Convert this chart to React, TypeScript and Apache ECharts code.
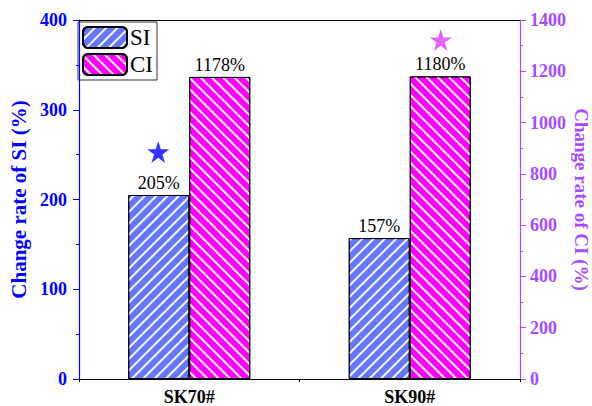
import React, { useEffect, useRef } from "react";
import * as echarts from "echarts";

const categories = ["SK70#", "SK90#"];
const siValues = [205, 157];
const ciValues = [1178, 1180];
const siLabels = ["205%", "157%"];
const ciLabels = ["1178%", "1180%"];
const starSI = [253, null];
const starCI = [null, 1322];

const FONT = "'Times New Roman', 'Liberation Serif', serif";
const STAR = "path://M50,0 L61.2,34.5 L97.6,34.5 L68.2,55.9 L79.4,90.5 L50,69.1 L20.6,90.5 L31.8,55.9 L2.4,34.5 L38.8,34.5 Z";
const BLUE = "#0000FF";
const PURPLE = "#A64BFF";

export default function App() {
  const ref = useRef<HTMLDivElement>(null);
  useEffect(() => {
    const chart = echarts.init(ref.current!, null, { renderer: "svg" });
    const decalBase = {
      symbol: "rect",
      symbolSize: 1,
      dashArrayX: [1, 0],
      dashArrayY: [1.3, 5.2],
      color: "rgba(255,255,255,0.95)",
    };
    chart.setOption({
      animation: false,
      backgroundColor: "#fff",
      grid: {
        left: 79,
        right: 72,
        top: 20,
        bottom: 27,
        outerBoundsMode: "none",
        containLabel: false,
      },
      legend: {
        left: 78,
        top: 22,
        orient: "vertical",
        itemWidth: 44,
        itemHeight: 21,
        itemGap: 4,
        padding: [4, 4, 4, 4],
        borderColor: "#333",
        borderWidth: 1,
        data: ["SI", "CI"],
        textStyle: { fontFamily: FONT, fontSize: 23, color: "#000", padding: [0, 0, 0, -2] },
      },
      xAxis: [
        {
          type: "category",
          data: categories,
          axisLine: { lineStyle: { color: "#000", width: 1 } },
          axisTick: { alignWithLabel: true, length: 6, lineStyle: { color: "#000" } },
          axisLabel: {
            fontFamily: FONT,
            fontWeight: "bold",
            fontSize: 18,
            color: "#000",
            margin: 9,
            lineHeight: 18,
          },
        },
        {
          type: "category",
          data: categories,
          position: "bottom",
          axisLine: { show: false },
          axisTick: { show: true, length: 3, lineStyle: { color: "#000" } },
          axisLabel: { show: false },
        },
        {
          type: "category",
          data: categories,
          position: "top",
          axisLine: { show: true, lineStyle: { color: "#000", width: 1 } },
          axisTick: { show: false },
          axisLabel: { show: false },
        },
      ],
      yAxis: [
        {
          type: "value",
          min: 0,
          max: 400,
          interval: 100,
          name: "Change rate of SI (%)",
          nameLocation: "middle",
          nameGap: 46,
          nameTextStyle: { fontFamily: FONT, fontWeight: "bold", fontSize: 21, color: BLUE },
          axisLine: { show: true, lineStyle: { color: BLUE, width: 1.2 } },
          axisTick: { show: true, length: 6, lineStyle: { color: BLUE } },
          minorTick: { show: true, splitNumber: 2, length: 3, lineStyle: { color: BLUE } },
          splitLine: { show: false },
          axisLabel: {
            fontFamily: FONT,
            fontWeight: "bold",
            fontSize: 18,
            color: BLUE,
            margin: 12,
            formatter: (v: number) => String(v),
          },
        },
        {
          type: "value",
          min: 0,
          max: 1400,
          interval: 200,
          position: "right",
          name: "Change rate of CI (%)",
          nameLocation: "middle",
          nameGap: 52,
          nameMoveOverlap: false,
          nameRotate: -90,
          nameTextStyle: { fontFamily: FONT, fontWeight: "bold", fontSize: 19, color: PURPLE, lineHeight: 19 },
          axisLine: { show: true, lineStyle: { color: PURPLE, width: 1.2 } },
          axisTick: { show: true, length: 6, lineStyle: { color: PURPLE } },
          minorTick: { show: true, splitNumber: 2, length: 3, lineStyle: { color: PURPLE } },
          splitLine: { show: false },
          axisLabel: {
            fontFamily: FONT,
            fontWeight: "bold",
            fontSize: 18,
            color: PURPLE,
            margin: 10,
            formatter: (v: number) => String(v),
          },
        },
      ],
      series: [
        {
          name: "SI",
          type: "bar",
          yAxisIndex: 0,
          data: siValues,
          barWidth: 61,
          barGap: "0%",
          itemStyle: {
            color: "#6677FF",
            borderColor: "#000",
            borderWidth: 1,
            decal: { ...decalBase, rotation: -Math.PI / 4 },
          },
          label: {
            show: true,
            position: "top",
            distance: 3,
            formatter: (p: any) => siLabels[p.dataIndex],
            fontFamily: FONT,
            fontSize: 18,
            color: "#000",
          },
        },
        {
          name: "CI",
          type: "bar",
          yAxisIndex: 1,
          data: ciValues,
          barWidth: 61,
          barGap: "0%",
          itemStyle: {
            color: "#FF00FF",
            borderColor: "#000",
            borderWidth: 1,
            decal: { ...decalBase, rotation: Math.PI / 4 },
          },
          label: {
            show: true,
            position: "top",
            distance: 3,
            formatter: (p: any) => ciLabels[p.dataIndex],
            fontFamily: FONT,
            fontSize: 18,
            color: "#000",
          },
        },
        {
          type: "scatter",
          yAxisIndex: 0,
          data: starSI,
          symbol: STAR,
          symbolSize: 22,
          symbolOffset: [-31, 0],
          itemStyle: { color: BLUE },
          z: 5,
        },
        {
          type: "scatter",
          yAxisIndex: 1,
          data: starCI,
          symbol: STAR,
          symbolSize: 22,
          symbolOffset: [31, 0],
          itemStyle: { color: "#E03CF5" },
          z: 5,
        },
      ],
    });
    return () => chart.dispose();
  }, []);
  return (
    <div
      ref={ref}
      style={{ position: "fixed", left: 0, top: 0, width: 592, height: 406 }}
    />
  );
}
